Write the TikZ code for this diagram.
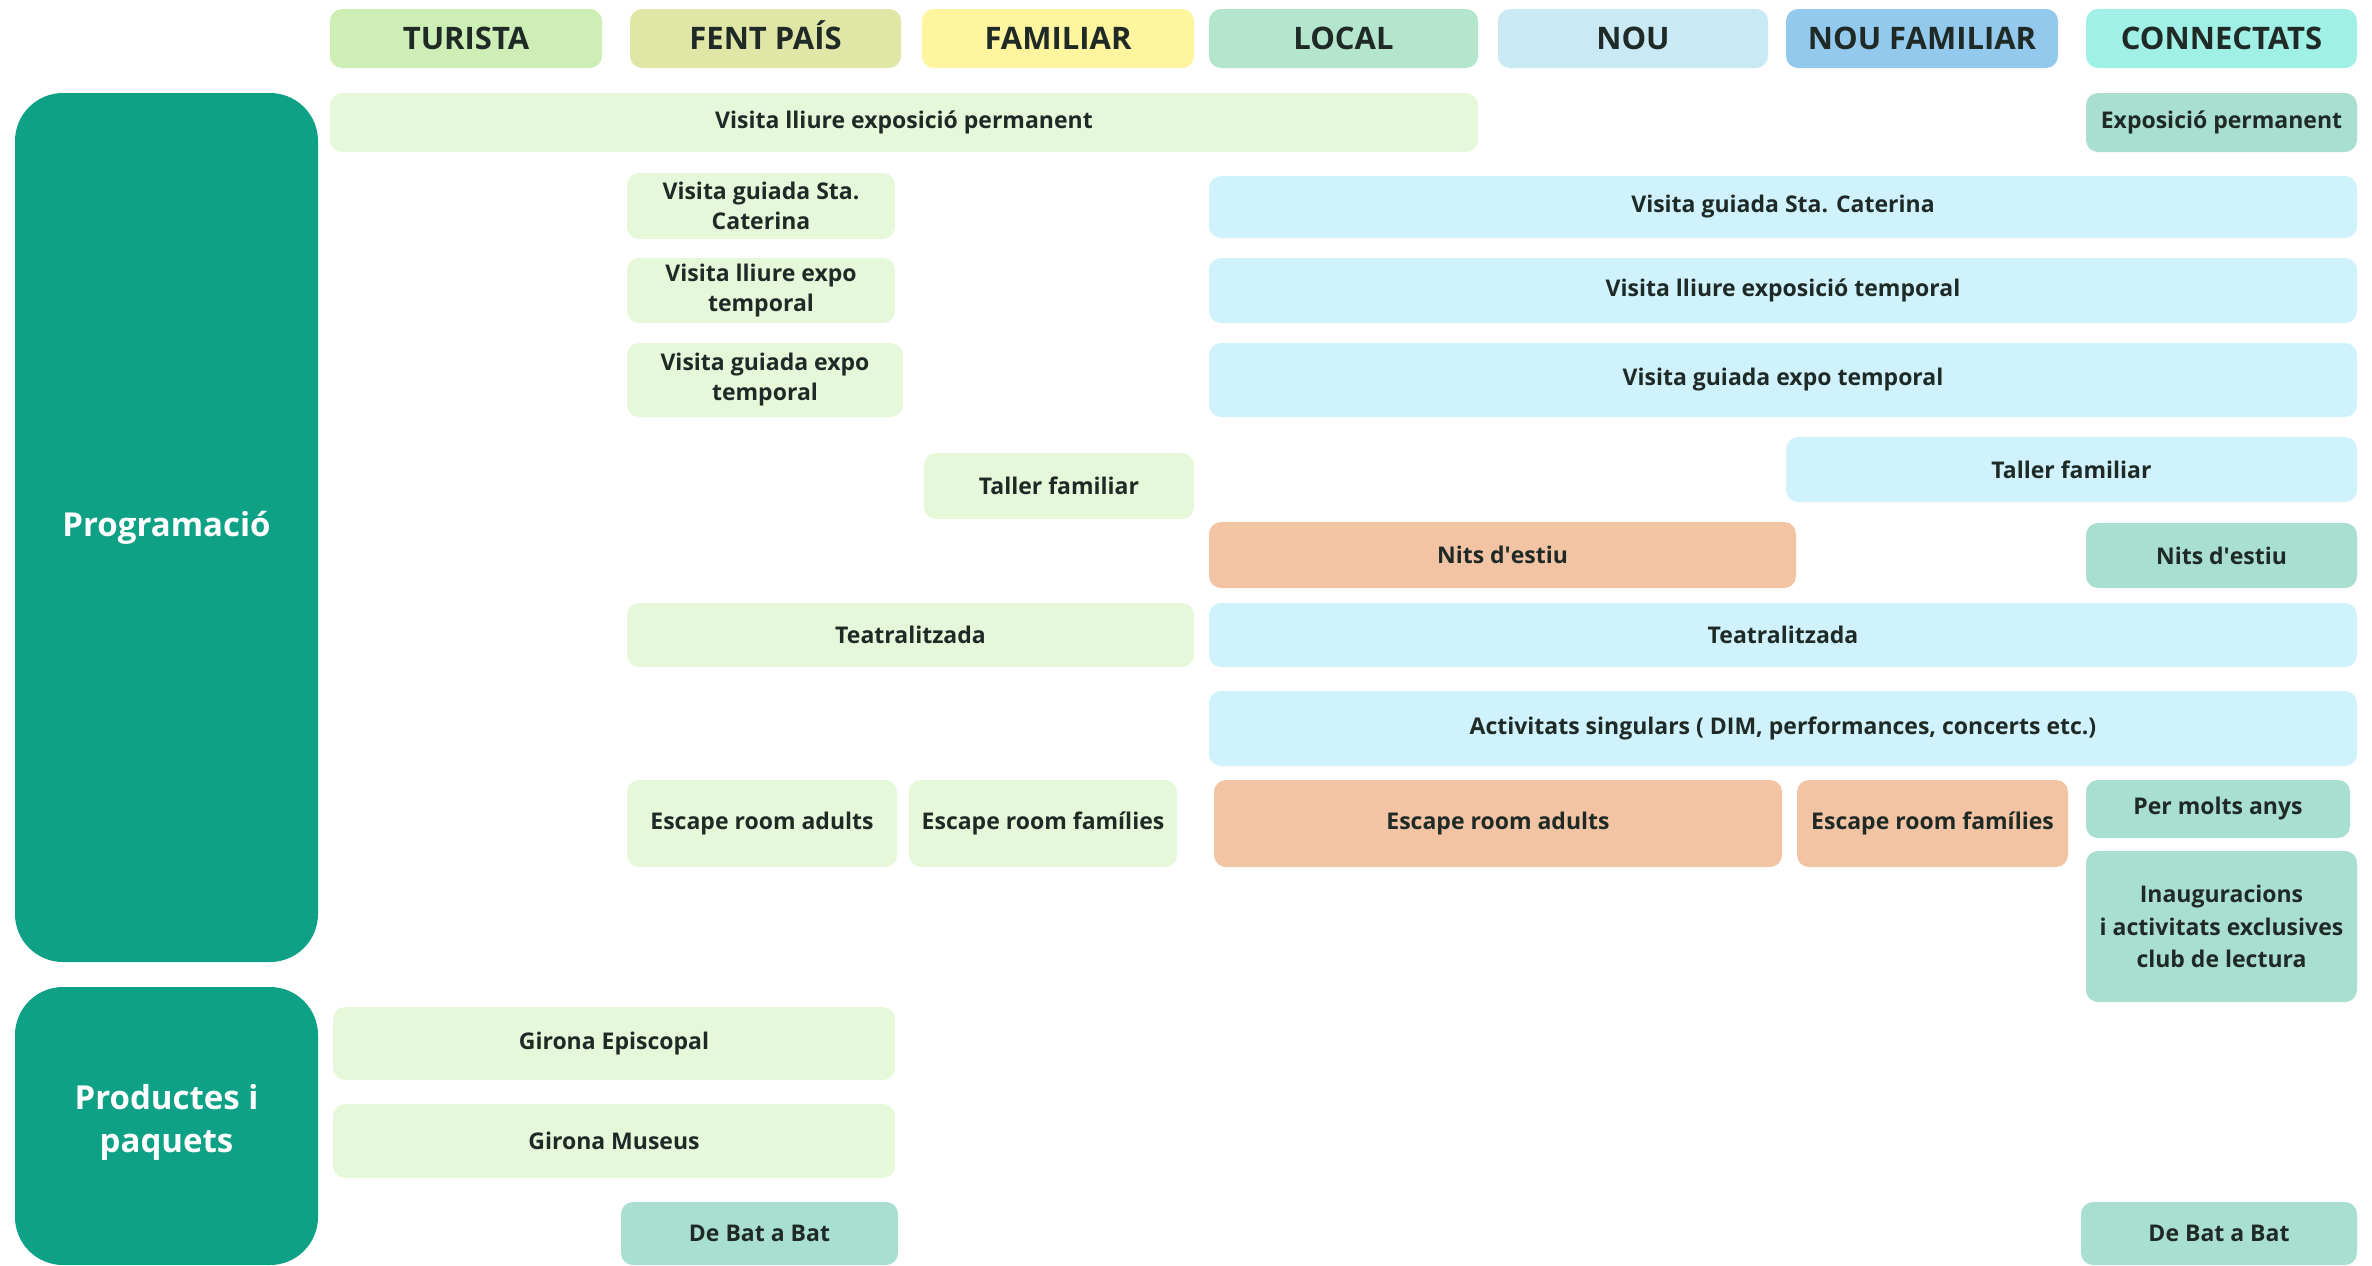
\documentclass[tikz,border=0pt]{standalone}
\usepackage{fontspec}
\setmainfont{Open Sans}

% palette
\definecolor{txt}{HTML}{1F2A27}
\definecolor{panelgreen}{HTML}{0FA185}
\definecolor{hTur}{HTML}{CDEFB5}
\definecolor{hFent}{HTML}{DFE6A6}
\definecolor{hFam}{HTML}{FFF59E}
\definecolor{hLoc}{HTML}{B4E6CD}
\definecolor{hNou}{HTML}{C9EAF5}
\definecolor{hNouF}{HTML}{93C9ED}
\definecolor{hCon}{HTML}{A0F0E6}
\definecolor{lgreen}{HTML}{E6F8DA}
\definecolor{lblue}{HTML}{CFF2FC}
\definecolor{peach}{HTML}{F2C4A3}
\definecolor{tealc}{HTML}{A9DFD0}

\newcommand\headfont{\bfseries\fontsize{31}{36}\selectfont}
\newcommand\itemfont{\bfseries\fontsize{23}{30}\selectfont}
\newcommand\panelfont{\bfseries\fontsize{33}{43}\selectfont}

\tikzset{
  cell/.style={rectangle, rounded corners=12pt, inner sep=2pt, align=center,
               text=txt, font=\itemfont},
  head/.style={rectangle, rounded corners=12pt, inner sep=2pt, text=txt,
               font=\headfont, text height=22.5pt, text depth=0pt},
  panel/.style={rectangle, rounded corners=48pt, fill=panelgreen, text=white,
                font=\panelfont, align=center},
  green/.style={cell, fill=lgreen},
  blue/.style={cell, fill=lblue},
  orange/.style={cell, fill=peach},
  teal/.style={cell, fill=tealc},
}

% box from its corners: name, style, x1, y1, x2, y2, text
\newcommand\boxat[7]{%
  \node[#2, minimum width={(#5-#3)*1pt}, minimum height={(#6-#4)*1pt}]
    (#1) at ({(#3+#5)/2},{(#4+#6)/2}) {#7};}

\begin{document}
\begin{tikzpicture}[x=1pt, y=-1pt]
\path[use as bounding box, fill=white] (0,0) rectangle (2372,1266);

% column headers
\boxat{hT}{head, fill=hTur}{330}{9}{602}{68}{TURISTA}
\boxat{hF}{head, fill=hFent}{630}{9}{901}{68}{FENT PAÍS}
\boxat{hFa}{head, fill=hFam}{922}{9}{1194}{68}{FAMILIAR}
\boxat{hL}{head, fill=hLoc}{1209}{9}{1478}{68}{LOCAL}
\boxat{hN}{head, fill=hNou}{1498}{9}{1768}{68}{NOU}
\boxat{hNF}{head, fill=hNouF}{1786}{9}{2058}{68}{NOU FAMILIAR}
\boxat{hC}{head, fill=hCon}{2086}{9}{2357}{68}{CONNECTATS}

% row groups
\boxat{prog}{panel}{15}{93}{318}{962}{Programació}
\fill[panelgreen, rounded corners=48pt] (15,987) rectangle (318,1265);
\boxat{prod}{panel, fill=none}{15}{987}{318}{1257}{Productes i\\paquets}

% programació
\boxat{r1a}{green}{330}{93}{1478}{152}{Visita lliure exposició permanent}
\boxat{r1b}{teal}{2086}{93}{2357}{152}{Exposició permanent}
\boxat{r2a}{green}{627}{173}{895}{239}{Visita guiada Sta.\\Caterina}
\boxat{r2b}{blue}{1209}{176}{2357}{238}{Visita guiada Sta. Caterina}
\boxat{r3a}{green}{627}{258}{895}{323}{Visita lliure expo\\temporal}
\boxat{r3b}{blue}{1209}{258}{2357}{323}{Visita lliure exposició temporal}
\boxat{r4a}{green}{627}{343}{903}{417}{Visita guiada expo\\temporal}
\boxat{r4b}{blue}{1209}{343}{2357}{417}{Visita guiada expo temporal}
\boxat{r5a}{green}{924}{453}{1194}{519}{Taller familiar}
\boxat{r5b}{blue}{1786}{437}{2357}{502}{Taller familiar}
\boxat{r6a}{orange}{1209}{522}{1796}{588}{Nits d\textquotesingle estiu}
\boxat{r6b}{teal}{2086}{523}{2357}{588}{Nits d\textquotesingle estiu}
\boxat{r7a}{green}{627}{603}{1194}{667}{Teatralitzada}
\boxat{r7b}{blue}{1209}{603}{2357}{667}{Teatralitzada}
\boxat{r8}{blue}{1209}{691}{2357}{766}{Activitats singulars ( DIM, performances, concerts etc.)}
\boxat{r9a}{green}{627}{780}{897}{867}{Escape room adults}
\boxat{r9b}{green}{909}{780}{1177}{867}{Escape room famílies}
\boxat{r9c}{orange}{1214}{780}{1782}{867}{Escape room adults}
\boxat{r9d}{orange}{1797}{780}{2068}{867}{Escape room famílies}
\boxat{r9e}{teal}{2086}{780}{2350}{838}{Per molts anys}
\boxat{r10}{teal, font=\bfseries\fontsize{23}{32.5}\selectfont}{2086}{851}{2357}{1002}{Inauguracions\\i activitats exclusives\\club de lectura}

% productes i paquets
\boxat{p1}{green}{333}{1007}{895}{1080}{Girona Episcopal}
\boxat{p2}{green}{333}{1104}{895}{1178}{Girona Museus}
\boxat{p3a}{teal}{621}{1202}{898}{1265}{De Bat a Bat}
\boxat{p3b}{teal}{2081}{1202}{2357}{1265}{De Bat a Bat}
\end{tikzpicture}
\end{document}
